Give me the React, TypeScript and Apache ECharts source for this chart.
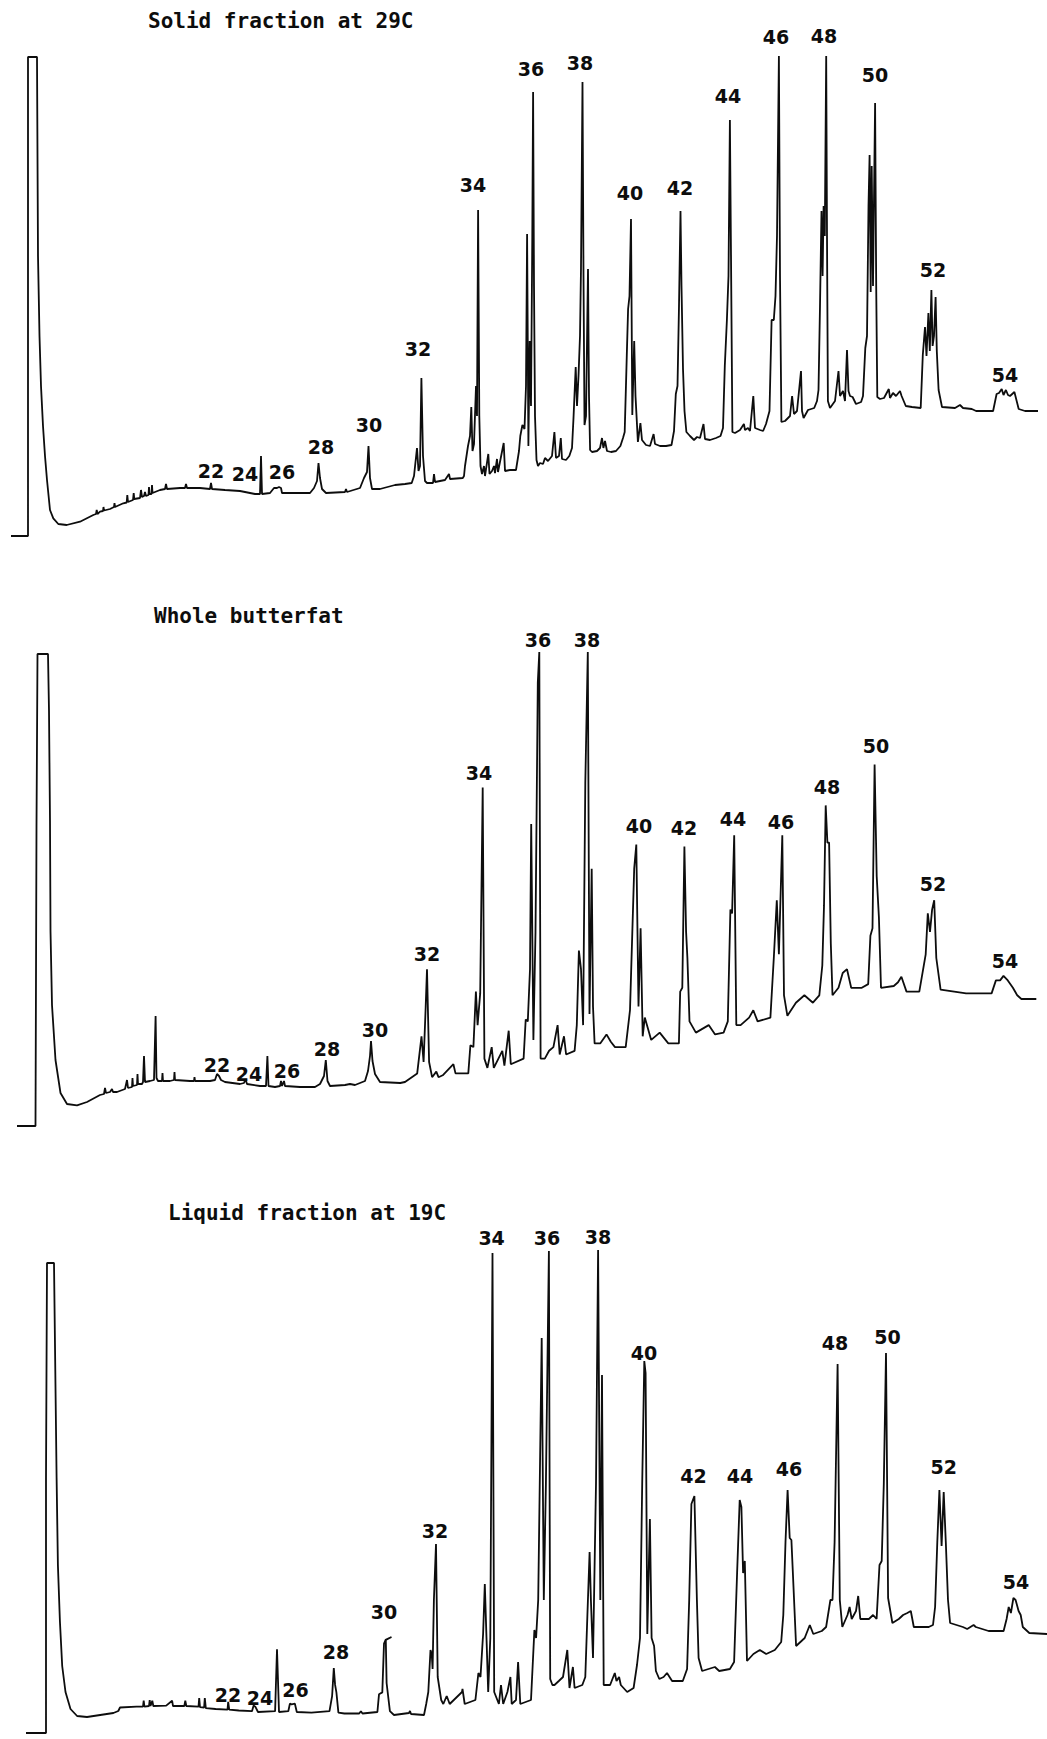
import React, { useEffect, useRef } from "react";
import * as echarts from "echarts";

// Peak designations (total carbon number)
const peakNames = ["22", "24", "26", "28", "30", "32", "34", "36", "38", "40", "42", "44", "46", "48", "50", "52", "54"];

const panelTitles = ["Solid fraction at 29C", "Whole butterfat", "Liquid fraction at 19C"];

// Solid fraction at 29C: [retention position, detector response]
const solidTrace: [number, number][] = [
  [11, 0], [28, 0], [28, 270], [28, 479], [37, 479], [38, 280], [39.5, 200], [41, 150], [43, 110], [45, 80], [47, 56], [50, 26], [53.3, 17.7], [58.3, 12], [66.7, 11], [80, 14.3], [93.3, 21], [96, 22], [96.7, 26], [97.5, 22], [100, 24.3], [103, 25], [103.5, 29], [104, 25.5], [110, 27], [114, 29], [114.5, 33], [115, 29], [123.3, 32.7], [126.7, 33.5], [127.3, 41], [128, 34], [133, 36], [133.7, 43], [134.3, 37], [140, 38], [141, 46], [142, 39], [144, 40], [145, 44], [146, 40], [148.5, 41], [149, 49], [149.5, 42], [151.5, 42], [152, 51], [152.5, 43], [155, 44], [160, 46], [165, 47], [166, 52], [167, 47], [180, 48], [185, 48], [186, 52], [187, 48], [200, 48], [210, 47], [211, 53], [212, 47], [225, 46], [240, 45], [255, 42], [260, 42], [261, 80], [262, 42], [270, 43], [274, 48], [277, 48], [279, 49], [281, 48], [282, 43], [295, 43], [310, 43], [314, 48], [317, 55], [318.5, 73], [320, 58], [322, 47], [326, 43], [345, 44], [346, 47], [347, 44], [360, 48], [364, 58], [367, 64], [368.5, 90], [370, 58], [372, 47], [380, 47],
  [395, 51], [405, 52], [411.7, 53], [414, 60], [417, 88], [418.5, 65], [420, 70], [421.4, 158], [423, 80], [425, 55], [427, 53], [433, 53], [434, 62], [435, 54], [445, 56], [449, 62], [450, 57], [462.8, 58],
  [464, 60], [465, 70], [468, 90], [470, 100], [471.3, 129], [472.5, 85], [474, 92], [476, 150], [477, 120], [478.1, 326], [479.3, 120], [480.5, 70], [482, 62], [484, 70], [485, 60], [488.3, 82], [489.5, 62], [492, 65], [494, 70], [495, 63], [497, 77], [498, 64], [503.7, 93], [505, 65], [510, 66], [516, 66],
  [519, 85], [520.3, 100], [522.4, 111], [524.5, 107], [526, 150], [527.1, 302], [528.4, 90], [529.7, 195], [531, 130], [532.3, 300], [533.1, 444], [534, 250], [535, 120], [536.5, 76], [538, 70], [540, 73], [543, 72], [545, 78], [548, 75], [552, 80], [554.4, 104], [556, 78], [559, 80], [560.8, 98], [562, 77], [566, 76], [569.3, 80],
  [572, 88], [573.5, 118], [575.7, 169], [577, 130], [578.5, 160], [580, 200], [581, 268], [582.5, 454], [583.5, 260], [584.5, 111], [586, 120], [588, 267], [589, 140], [590.1, 86], [592, 84], [597, 85], [600, 88], [602, 98], [603.4, 88], [605, 95], [607, 85], [611, 84], [616, 85], [620.4, 90],
  [623, 98], [624.7, 104], [626.8, 181], [628.1, 227], [629.5, 240], [631, 317], [632.3, 121], [634.2, 195], [635.5, 140], [637.9, 94], [640.4, 113], [642, 96], [646, 91], [650, 90], [653.6, 102], [655, 92], [660, 90], [666, 90], [671.5, 91],
  [674, 105], [675.8, 142], [677.5, 150], [679, 230], [680.5, 325], [681.5, 250], [683, 167], [684.5, 125], [686.4, 104], [690, 100], [694, 96], [697, 99], [700, 98], [703.5, 112], [705, 97], [710, 96], [716, 98], [720.5, 100],
  [723, 108], [724.8, 170], [726.9, 216], [728.5, 260], [729.9, 416], [731, 280], [732.4, 104], [735, 103], [740, 106], [743.9, 112], [745, 106], [748, 108], [750, 105], [753.3, 140], [755, 108], [760, 106], [763.1, 105],
  [766, 112], [769.5, 125], [771.6, 216], [773.8, 216], [775.5, 240], [777, 300], [778.9, 480], [780, 260], [781.4, 114], [785, 115], [790, 120], [792.1, 140], [794, 122], [797, 125], [801, 165], [802, 125], [803.6, 118], [808, 126], [814.2, 128],
  [817, 135], [818.5, 146], [820, 230], [821.5, 325], [822.6, 260], [823.6, 330], [824.8, 300], [826.2, 480], [827, 300], [827.9, 135], [830, 128], [835, 135], [838.5, 165], [840, 140], [843, 145], [845, 135], [847, 186], [848.5, 145], [850, 140], [852.6, 139], [856, 132], [861.1, 134],
  [863, 140], [865.3, 188], [867, 200], [868.5, 330], [869.6, 381], [870.7, 244], [871.7, 370], [873, 250], [875.1, 433], [876.2, 250], [877.3, 139], [880, 137], [884, 138], [888.8, 147], [890, 138], [893, 143], [896, 140], [900, 145], [901.6, 140], [905.8, 130], [912, 129], [920.7, 128],
  [922.8, 181], [925, 209], [926.5, 180], [928.4, 223], [929.8, 185], [931.4, 246], [932.6, 190], [934, 200], [935.6, 239], [936.8, 185], [938.6, 146], [942, 129], [955, 128], [960, 131], [963, 128], [971.8, 127], [976.1, 125], [993.1, 125],
  [996.6, 142], [999, 143], [1001.7, 147], [1003.5, 141], [1005.9, 146], [1008, 141], [1010, 140], [1014.4, 144], [1018.7, 127], [1025, 125], [1038, 125],
];

// Whole butterfat
const wholeTrace: [number, number][] = [
  [17, 0], [35.5, 0], [36.5, 300], [37.5, 472], [48, 472], [49, 415], [50, 305], [50.5, 195], [52, 121], [55.5, 66], [60.5, 33], [67, 22], [77, 20.6], [87, 24], [100, 31], [104, 32], [105, 38], [106, 33], [110, 34], [112, 37], [113, 34], [117, 34], [125, 37], [127, 46], [128, 38], [132, 39], [132.5, 48], [133, 40], [137, 41], [137.5, 52], [138, 42], [142, 42], [143, 44], [144, 70], [145, 44], [150, 45], [154, 46], [155.6, 110], [156.5, 48], [158, 45], [162, 45], [162.5, 53], [163, 45], [170, 45], [174, 46], [174.5, 54], [175, 46], [190, 45], [194, 45], [194.5, 49], [195, 45], [210, 45], [215, 46], [217, 52], [219, 50], [221, 46], [225, 44], [240, 42], [244, 43], [245.5, 47], [247, 42], [260, 40], [266, 40], [267.4, 70], [268.5, 40], [275, 39], [280, 40], [281, 45], [282, 40], [284, 45], [285, 40], [300, 39], [315, 39], [320, 42], [324, 50], [325.8, 66], [327.5, 45], [330, 40], [345, 41], [350, 42], [355, 41], [365, 45], [368, 55], [370, 70], [371, 85], [372.5, 65], [375, 52], [380, 44],
  [400.2, 43], [405, 44], [417.2, 52.6], [421.5, 89.7], [423.6, 64], [425.7, 119.5], [427, 156.8], [429.1, 64], [432.1, 48.8], [436.3, 54.4], [438.5, 48.8], [442.7, 50.7], [453.4, 61.8], [455.5, 52.6], [468.3, 52.6],
  [470.4, 80.8], [473.4, 78.9], [475.9, 134.4], [477.6, 100.9], [480.2, 132.6], [482.7, 338.5], [484.4, 67.4], [487.4, 58.1], [491.7, 78.9], [493.8, 58.1], [502.3, 75.2], [504.4, 60.3], [508.7, 95.3], [510.8, 61.8], [523.6, 67.4],
  [525.7, 106.5], [527.8, 104.6], [530, 156.8], [531.2, 302], [533.4, 86.1], [535.5, 194], [537.8, 443.5], [539.3, 474], [540.6, 67.4], [544.8, 67.4], [549.1, 75.2], [553.4, 78.9], [557.6, 100.9], [559.7, 71.5], [564, 89.7], [566.1, 71.5], [574.6, 75.2],
  [576.8, 100.9], [578.9, 175.4], [581, 156.8], [583.1, 100.9], [585.3, 343], [587.8, 474], [589.5, 112.1], [591.7, 257.3], [593, 119.5], [594.6, 82.6], [600.2, 82.6], [606.5, 91.6], [610.8, 84.2], [615, 78.9], [625.7, 78.9],
  [630, 115.8], [634.2, 257.3], [636.3, 281.5], [638.5, 119.5], [640.6, 197.7], [642.7, 89.7], [644.8, 108.4], [651.2, 86.1], [659.7, 93.4], [668.3, 82.6], [678.9, 82.6],
  [680.2, 134.4], [682.3, 138.2], [684.4, 279.6], [686.1, 194], [687.4, 168], [689.5, 104.6], [695.9, 93.4], [708.7, 100.9], [715.1, 91.6], [723.6, 93.4],
  [727.8, 104.6], [730.4, 216.4], [732.1, 212.6], [734.2, 290.8], [736.3, 100.9], [740.6, 100.9], [749.1, 108.4], [753.3, 115.8], [757.6, 104.6], [770.4, 108.4],
  [773.8, 168], [776.8, 225.7], [778.9, 171.7], [782.3, 290.8], [784, 130.7], [787.4, 110.2], [795.9, 123.3], [804.4, 130.7], [812.9, 123.3], [819.3, 130.7],
  [822.3, 160.5], [824, 220.1], [825.7, 320.6], [827.4, 283.4], [829.1, 283.4], [830.8, 182.8], [832.5, 130.7], [838.5, 138.2], [842.7, 153], [847, 156.8], [851.2, 138.2], [861.8, 138.2], [868.2, 141.9],
  [870.4, 190.3], [872.5, 197.7], [874.6, 361.6], [876.7, 249.8], [878.9, 209], [881, 138.2], [893.8, 140], [898, 143.7], [901.4, 149.3], [906.5, 134.4], [919.3, 134.4],
  [925.7, 171.7], [927.8, 212.6], [930, 194], [932.1, 216.4], [934.2, 225.7], [936.3, 168], [940.6, 136.3], [966.1, 132.6], [991.6, 132.6],
  [995.9, 145.6], [1000.1, 145.6], [1003.5, 150.1], [1007.8, 145.6], [1012.9, 138.2], [1017.2, 130.7], [1021.4, 127], [1036.3, 127],
];

// Liquid fraction at 19C
const liquidTrace: [number, number][] = [
  [26, 0], [46, 0], [46, 255], [47, 470], [54, 470], [56.6, 255], [57.9, 168], [59.9, 112], [62.2, 67], [65.5, 41], [70.5, 24], [77.1, 17], [87, 16], [100.2, 18], [113.4, 20], [118.3, 22], [120, 25.5], [136.5, 26.3], [143, 26.3], [143.7, 32.3], [144.4, 26.3], [149, 27], [149.7, 33], [150.5, 27], [152.3, 32.3], [153.3, 27], [166.2, 27.4], [172.1, 32.3], [173, 27], [184.3, 27], [185.3, 32.3], [186.3, 27], [198.5, 26.3], [199.2, 34.9], [200, 25.8], [204.1, 25.5], [204.8, 34.9], [205.8, 24.8], [215.7, 24], [227.5, 23.3], [228.2, 31.2], [229.2, 23.3], [238.8, 22.5], [252, 21.8], [253.6, 27.4], [255.3, 26.3], [258, 21], [275.1, 21.8], [277, 83.8], [279, 21], [288.3, 21.8], [289.9, 29.3], [291.6, 28.6], [294.9, 29.3], [296.8, 21], [311.4, 20.3], [329.5, 21.8], [332.1, 36.8], [333.8, 65], [335.1, 48.1], [336.4, 40.6], [338.4, 20.3], [344.4, 19.5], [359.2, 19.5], [360.9, 21.8], [362.5, 19.5], [377.4, 21], [379, 38.7], [382.3, 40.6], [384, 89.4], [385.6, 93.2], [391.5, 96], [385.8, 93], [386.6, 50], [389.9, 21.8],
  [394, 18], [409, 20], [410, 22], [411, 19], [424, 18], [426.2, 29], [428.3, 41], [430.5, 83], [431.7, 79], [432.6, 64], [433.9, 133], [436, 189], [437.7, 56], [441.2, 33], [443.3, 29], [446.7, 37], [449.7, 29], [462, 41], [462.5, 44], [464.7, 29], [475.4, 33],
  [478.4, 60], [480.5, 56], [483.1, 99], [484.8, 149], [486.5, 95], [488.2, 41], [490.3, 95], [492.5, 480], [494.2, 41], [498.9, 29], [501, 48], [503.2, 29], [507.4, 41], [510.4, 56], [511.7, 29], [516, 33], [518.1, 71], [520.3, 29], [531, 33],
  [534.4, 103], [536.1, 95], [538.2, 133], [541.7, 395], [543.8, 133], [545.9, 249], [548.9, 482], [550.2, 54], [552.4, 48], [554.5, 48], [558.8, 52], [563, 56], [567.3, 83], [569.5, 45], [572.9, 66], [574.6, 45], [582.3, 48], [585.3, 56],
  [587.4, 118], [589.6, 181], [590.9, 133], [593, 75], [596, 249], [598.1, 483], [600.3, 133], [602, 358], [603.7, 48], [605.8, 48], [610.1, 48], [614.8, 60], [616.5, 52], [619.1, 56], [620.8, 48], [627.2, 41], [633.6, 45],
  [637, 68], [640, 95], [642.2, 249], [644.3, 372], [645.6, 360], [647.3, 99], [649.9, 214], [651.6, 95], [654.1, 87], [655.9, 62], [659.3, 54], [663.6, 56], [667, 60], [672.1, 52], [682.8, 52],
  [687.1, 64], [689.2, 133], [691.4, 229], [694.4, 237], [696.9, 133], [698.6, 75], [702.1, 62], [708.5, 64], [714.9, 66], [719.2, 62], [729.9, 64],
  [734.1, 71], [737.1, 160], [739.7, 233], [741.4, 226], [743.1, 160], [744.8, 172], [747, 72], [753.4, 79], [759.8, 83], [766.2, 79], [774.8, 83], [781.2, 91],
  [783.3, 118], [785.5, 191], [787.6, 243], [789.7, 195], [791.4, 193], [792.7, 164], [796.1, 87], [800.4, 91], [804.7, 95], [809.8, 108], [813.3, 99], [821.8, 102], [826.1, 106],
  [830.4, 133], [832.5, 133], [834.6, 191], [837.6, 369], [839.8, 133], [842.3, 106], [847.5, 118], [849.6, 126], [851.7, 114], [856, 122], [858.2, 137], [860.3, 114], [868.9, 114], [873.1, 118], [876.6, 114],
  [879.5, 168], [881.7, 172], [883.8, 249], [886, 380], [888.1, 135], [892.4, 110], [898.8, 114], [903.1, 118], [907.3, 120], [910.8, 122], [913.8, 106], [928.7, 106], [933, 108],
  [935.1, 126], [937.3, 191], [939.4, 243], [941.6, 187], [943.7, 241], [945.8, 191], [948, 133], [950.1, 110], [962.9, 106], [967.2, 104], [973.6, 108], [975.8, 106], [988.6, 102], [1003.6, 102],
  [1006.6, 114], [1008.7, 126], [1010.9, 120], [1013.4, 135], [1015.6, 133], [1018.6, 122], [1020.7, 118], [1022.8, 106], [1029.3, 100], [1047, 99],
];

// Label anchor positions (same units as the traces), one per peak name
const solidLabelPos: [number, number][] = [
  [211, 65], [245, 62], [282, 64], [321, 89], [369, 111], [418, 187], [473, 351], [531, 467], [580, 473], [630, 343], [680, 348], [728, 440], [776, 499], [824, 500], [875, 461], [933, 266], [1005, 161],
];
const wholeLabelPos: [number, number][] = [
  [217, 61], [249, 52], [287, 55], [327, 77], [375, 96], [427, 172], [479, 353], [538, 486], [587, 486], [639, 300], [684, 298], [733, 307], [781, 304], [827, 339], [876, 380], [933, 242], [1005, 165],
];
const liquidLabelPos: [number, number][] = [
  [228, 38], [260, 35], [295.5, 43], [336, 81], [384, 121], [435, 202], [491.6, 495], [547, 495], [598, 496], [644, 380], [693.5, 257], [740, 257], [789, 264], [835, 390], [887.5, 396], [943.7, 266], [1016, 151],
];

const W = 1047;
const H = 536;

const panels = [
  { trace: solidTrace, labels: solidLabelPos, title: panelTitles[0], bottom: 536, titleLeft: 148, titleTop: 10 },
  { trace: wholeTrace, labels: wholeLabelPos, title: panelTitles[1], bottom: 1126, titleLeft: 154, titleTop: 605 },
  { trace: liquidTrace, labels: liquidLabelPos, title: panelTitles[2], bottom: 1733, titleLeft: 168, titleTop: 1202 },
];

export default function App() {
  const ref = useRef<HTMLDivElement>(null);
  useEffect(() => {
    if (!ref.current) return;
    const chart = echarts.init(ref.current, undefined, { renderer: "svg" });
    const ink = "#0d0d0d";
    chart.setOption({
      animation: false,
      backgroundColor: "#ffffff",
      title: panels.map((p) => ({
        text: p.title,
        left: p.titleLeft,
        top: p.titleTop,
        padding: 0,
        textStyle: { fontFamily: "DejaVu Sans Mono", fontWeight: "bold", fontSize: 21, color: ink },
      })),
      grid: panels.map((p) => ({ left: 0, top: p.bottom - H, width: W, height: H })),
      xAxis: panels.map((_, i) => ({ type: "value", gridIndex: i, min: 0, max: W, show: false })),
      yAxis: panels.map((_, i) => ({ type: "value", gridIndex: i, min: 0, max: H, show: false })),
      series: panels.flatMap((p, i) => [
        {
          type: "line",
          xAxisIndex: i,
          yAxisIndex: i,
          data: p.trace,
          symbol: "none",
          showSymbol: false,
          silent: true,
          lineStyle: { color: ink, width: 1.8 },
        },
        {
          type: "scatter",
          xAxisIndex: i,
          yAxisIndex: i,
          data: p.labels.map((v, j) => ({ name: peakNames[j], value: v })),
          symbolSize: 1,
          silent: true,
          itemStyle: { color: "rgba(255,255,255,0)", opacity: 1 },
          label: {
            show: true,
            position: "inside",
            formatter: "{b}",
            fontFamily: "DejaVu Sans",
            fontWeight: "bold",
            fontSize: 19,
            color: ink,
          },
        },
      ]),
    });
    return () => chart.dispose();
  }, []);
  return (
    <div
      ref={ref}
      style={{ position: "absolute", left: 0, top: 0, width: W, height: 1739, background: "#fff" }}
    />
  );
}
